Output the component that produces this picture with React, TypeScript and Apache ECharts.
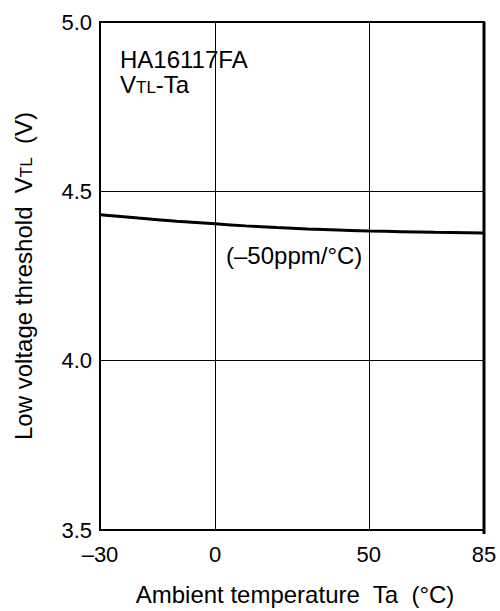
import React, { useEffect, useRef } from "react";
import * as echarts from "echarts";

const temperatures = [-30, -20, -10, 0, 10, 20, 30, 40, 50, 60, 70, 85];
const thresholdV = [4.431, 4.421, 4.412, 4.404, 4.398, 4.393, 4.389, 4.386, 4.383, 4.381, 4.379, 4.377];
const xTickTemps = [-30, 0, 50, 85];
const xTickLabels = ["–30", "0", "50", "85"];
const xTickPos = [0, 3, 7, 10];
const yTicks = [3.5, 4.0, 4.5, 5.0];

// piecewise mapping of temperature onto the (non-uniform) printed axis
function tempToPos(t: number): number {
  for (let i = 0; i < xTickTemps.length - 1; i++) {
    const a = xTickTemps[i], b = xTickTemps[i + 1];
    if (t <= b || i === xTickTemps.length - 2) {
      return xTickPos[i] + ((t - a) / (b - a)) * (xTickPos[i + 1] - xTickPos[i]);
    }
  }
  return 0;
}

const FONT = "'Liberation Sans', Arial, Helvetica, sans-serif";

export default function App() {
  const ref = useRef<HTMLDivElement>(null);
  useEffect(() => {
    document.body.style.margin = "0";
    document.body.style.overflow = "hidden";
    if (!ref.current) return;
    const chart = echarts.init(ref.current, undefined, { renderer: "svg" });
    const data = temperatures.map((t, i) => [tempToPos(t), thresholdV[i]]);
    chart.setOption({
      animation: false,
      backgroundColor: "#fff",
      textStyle: { fontFamily: FONT },
      grid: {
        left: 100,
        right: 16,
        top: 22,
        bottom: 77,
        show: true,
        borderColor: "#000",
        borderWidth: 2,
        backgroundColor: "transparent",
      },
      xAxis: {
        type: "value",
        min: 0,
        max: 10,
        interval: 1,
        axisLine: { show: false },
        axisTick: { show: false },
        splitLine: { show: false },
        axisLabel: {
          color: "#000",
          fontSize: 22,
          fontFamily: FONT,
          margin: 13,
          showMinLabel: true,
          showMaxLabel: true,
          formatter: (v: number) => {
            const idx = xTickPos.indexOf(Math.round(v));
            return idx >= 0 && Math.abs(v - Math.round(v)) < 1e-6 ? xTickLabels[idx] : "";
          },
        },
        name: "Ambient temperature  Ta  (°C)",
        nameLocation: "middle",
        nameGap: 52,
        nameTextStyle: { color: "#000", fontSize: 24, fontFamily: FONT, padding: [0, 0, 0, 6] },
      },
      yAxis: {
        type: "value",
        min: 3.5,
        max: 5.0,
        interval: 0.5,
        axisLine: { show: false },
        axisTick: { show: false },
        splitLine: { show: true, lineStyle: { color: "#000", width: 1 } },
        axisLabel: {
          color: "#000",
          fontSize: 22,
          fontFamily: FONT,
          margin: 8,
          formatter: (v: number) => (yTicks.some((y) => Math.abs(y - v) < 1e-6) ? v.toFixed(1) : ""),
        },
        name: "{a|Low voltage threshold  V}{s|TL}{a|  (V)}",
        nameLocation: "middle",
        nameGap: 65,
        nameRotate: 90,
        nameTextStyle: {
          color: "#000",
          fontFamily: FONT,
          padding: [0, 0, 0, 0],
          rich: {
            a: { fontSize: 24, lineHeight: 24, color: "#000", fontFamily: FONT },
            s: { fontSize: 17, lineHeight: 12, color: "#000", fontFamily: FONT, verticalAlign: "bottom" },
          },
        },
      },
      series: [
        {
          type: "line",
          data,
          smooth: 0.5,
          showSymbol: false,
          symbol: "none",
          lineStyle: { color: "#000", width: 3 },
          z: 5,
          markLine: {
            silent: true,
            symbol: "none",
            label: { show: false },
            lineStyle: { color: "#000", width: 1, type: "solid" },
            data: [{ xAxis: tempToPos(0) }, { xAxis: tempToPos(50) }],
          },
        },
      ],
      graphic: [
        {
          type: "text",
          left: 120,
          top: 47,
          style: { text: "HA16117FA", fontSize: 24, lineHeight: 24, fontFamily: FONT, fill: "#000" },
        },
        {
          type: "text",
          left: 120,
          top: 72,
          style: {
            text: "{a|V}{s|TL}{a|-Ta}",
            fontFamily: FONT,
            fill: "#000",
            rich: {
              a: { fontSize: 24, lineHeight: 24, fontFamily: FONT, fill: "#000" },
              s: { fontSize: 17, lineHeight: 12, fontFamily: FONT, fill: "#000", verticalAlign: "bottom" },
            },
          },
        },
        {
          type: "text",
          left: 226,
          top: 243,
          style: { text: "(–50ppm/°C)", fontSize: 24, lineHeight: 24, fontFamily: FONT, fill: "#000" },
        },
        {
          type: "line",
          shape: { x1: 484, y1: 22, x2: 484, y2: 534 },
          style: { stroke: "#000", lineWidth: 3 },
          z: 10,
        },
      ],
    });
    return () => chart.dispose();
  }, []);
  return <div ref={ref} style={{ width: 500, height: 611 }} />;
}
